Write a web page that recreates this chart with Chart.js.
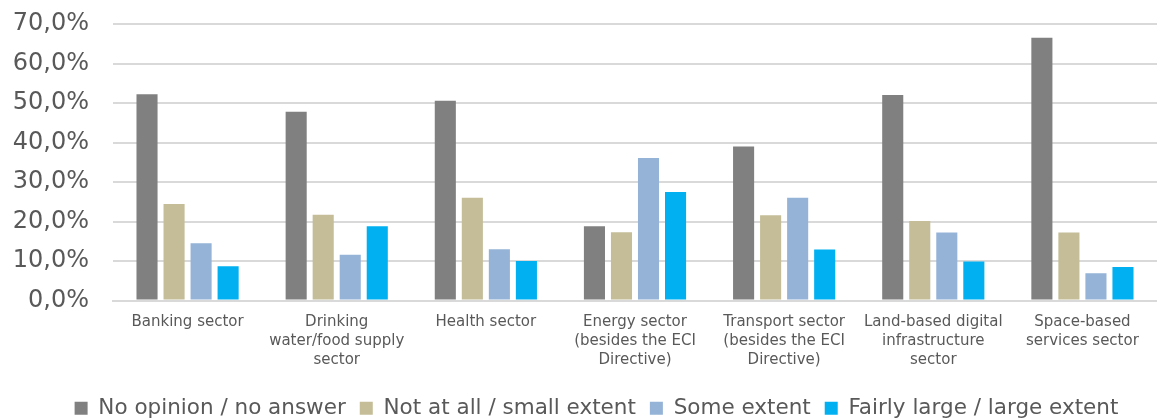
<!DOCTYPE html>
<html>
<head>
<meta charset="utf-8">
<script src="https://cdn.jsdelivr.net/npm/chart.js@4"></script>
<style>
  html, body { margin: 0; padding: 0; background: #fff; }
  #wrap { width: 1157px; height: 419px; position: relative; }
</style>
</head>
<body>
<div id="wrap"><canvas id="chart"></canvas></div>
<script>
  /* Data */
  var SECTORS = [
    ['Banking sector'],
    ['Drinking', 'water/food supply', 'sector'],
    ['Health sector'],
    ['Energy sector', '(besides the ECI', 'Directive)'],
    ['Transport sector', '(besides the ECI', 'Directive)'],
    ['Land-based digital', 'infrastructure', 'sector'],
    ['Space-based', 'services sector'],
  ];
  var NO_OPINION   = [52.2, 47.8, 50.6, 18.8, 39.0, 52.0, 66.5];
  var SMALL_EXTENT = [24.4, 21.7, 26.0, 17.3, 21.6, 20.1, 17.2];
  var SOME_EXTENT  = [14.5, 11.6, 13.0, 36.1, 26.0, 17.2, 6.9];
  var LARGE_EXTENT = [8.7, 18.8, 10.0, 27.5, 12.9, 9.9, 8.5];
  var SERIES_NAMES = ['No opinion / no answer', 'Not at all / small extent', 'Some extent', 'Fairly large / large extent'];

  /* Theme */
  var C = {
    text: '#595959',
    grid: '#d9d9d9',
    bars: ['#808080', '#c4bd97', '#95b3d7', '#00b0f0'],
  };
  var FONT = "'DejaVu Sans', Verdana, sans-serif";

  function dataset(i, values) {
    return {
      label: SERIES_NAMES[i],
      data: values,
      backgroundColor: C.bars[i],
      borderWidth: 0,
      barPercentage: 0.78,
      categoryPercentage: 0.725,
    };
  }

  /* legend sits a little right of centre in the original */
  var legendNudge = {
    id: 'legendNudge',
    afterLayout: function (chart) {
      chart.legend.left += 18;
      chart.legend.right += 18;
    },
  };

  new Chart(document.getElementById('chart'), {
    type: 'bar',
    data: {
      labels: SECTORS,
      datasets: [
        dataset(0, NO_OPINION),
        dataset(1, SMALL_EXTENT),
        dataset(2, SOME_EXTENT),
        dataset(3, LARGE_EXTENT),
      ],
    },
    plugins: [legendNudge],
    options: {
      responsive: true,
      maintainAspectRatio: false,
      animation: false,
      devicePixelRatio: 1,
      layout: { padding: { top: 24, left: 0, right: 0, bottom: -10 } },
      plugins: {
        tooltip: { enabled: false },
        legend: {
          position: 'bottom',
          labels: {
            color: C.text,
            font: { family: FONT, size: 21.5 },
            boxWidth: 13,
            boxHeight: 13,
            padding: 14,
          },
        },
      },
      scales: {
        x: {
          grid: { display: false, drawTicks: false },
          border: { color: C.grid, width: 2 },
          ticks: {
            color: C.text,
            font: { family: FONT, size: 15, lineHeight: 1.27 },
            padding: 12,
            maxRotation: 0,
            autoSkip: false,
          },
          afterFit: function (scale) { scale.height = 83; },
        },
        y: {
          min: 0,
          max: 70,
          grid: { color: C.grid, lineWidth: 2, drawTicks: false },
          border: { display: false },
          ticks: {
            stepSize: 10,
            color: C.text,
            font: { family: FONT, size: 24 },
            padding: 24,
            callback: function (v) { return v.toFixed(1).replace('.', ',') + '%'; },
          },
          afterFit: function (scale) {
            scale.width = 113;
            scale.paddingTop = 0;
          },
        },
      },
    },
  });
</script>
</body>
</html>
